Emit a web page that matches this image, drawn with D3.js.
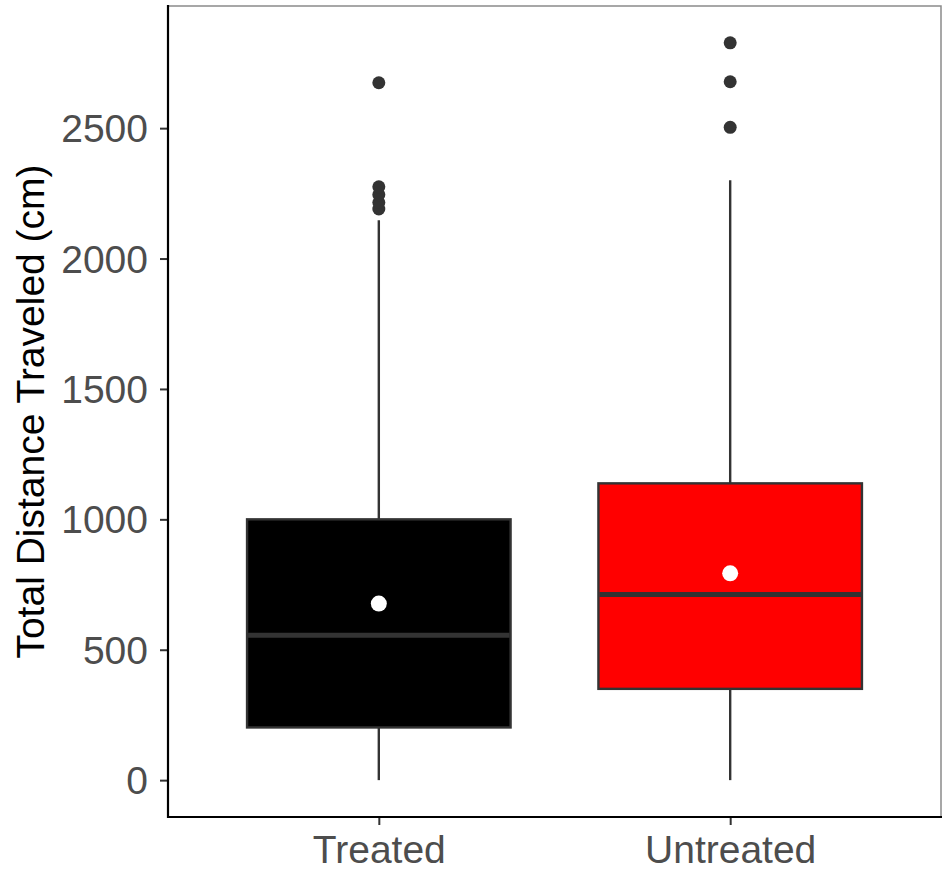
<!DOCTYPE html>
<html>
<head>
<meta charset="utf-8">
<script src="https://cdn.jsdelivr.net/npm/d3@7"></script>
<style>
  body { margin: 0; background: #fff; }
  text { font-family: "Liberation Sans", Arial, Helvetica, sans-serif; }
</style>
</head>
<body>
<div id="chart"></div>
<script>
// data
var categories = ["Treated", "Untreated"];
var fills = ["#000000", "#ff0000"];
var q1 = [202, 350];
var medians = [556, 712];
var q3 = [1000, 1138];
var whiskerLow = [0, 0];
var whiskerHigh = [2147, 2300];
var means = [677, 793];
var outliers = [
  [2190, 2215, 2245, 2275, 2674],
  [2503, 2678, 2827]
];
var yTicks = [0, 500, 1000, 1500, 2000, 2500];

var width = 943, height = 876;
// panel edges
var pLeft = 168, pRight = 941, pTop = 6, pBottom = 817;

var svg = d3.select("#chart").append("svg")
  .attr("width", width)
  .attr("height", height);

// y range with the usual 5% padding
var yMax = d3.max(outliers.map(function(o){ return d3.max(o); }));
var pad = yMax * 0.05;
var y = d3.scaleLinear().domain([0 - pad, yMax + pad]).range([pBottom, pTop]);
var x = d3.scalePoint().domain(categories).range([pLeft, pRight]).padding(0.6);
var boxW = x.step() * 0.75;

// panel border (top/right grey)
svg.append("rect")
  .attr("x", pLeft).attr("y", pTop)
  .attr("width", pRight - pLeft).attr("height", pBottom - pTop)
  .attr("fill", "none")
  .attr("stroke", "#8a8a8a")
  .attr("stroke-width", 1.5);

var g = svg.append("g");

categories.forEach(function(c, i){
  var cx = x(c);
  // whiskers
  g.append("line")
    .attr("x1", cx).attr("x2", cx)
    .attr("y1", y(q3[i])).attr("y2", y(whiskerHigh[i]))
    .attr("stroke", "#333333").attr("stroke-width", 2.4);
  g.append("line")
    .attr("x1", cx).attr("x2", cx)
    .attr("y1", y(q1[i])).attr("y2", y(whiskerLow[i]))
    .attr("stroke", "#333333").attr("stroke-width", 2.4);
  // box
  g.append("rect")
    .attr("x", cx - boxW / 2)
    .attr("y", y(q3[i]))
    .attr("width", boxW)
    .attr("height", y(q1[i]) - y(q3[i]))
    .attr("fill", fills[i])
    .attr("stroke", "#333333")
    .attr("stroke-width", 2.4);
  // median
  g.append("line")
    .attr("x1", cx - boxW / 2 + 1).attr("x2", cx + boxW / 2 - 1)
    .attr("y1", y(medians[i])).attr("y2", y(medians[i]))
    .attr("stroke", "#333333").attr("stroke-width", 5);
  // outliers
  g.selectAll(null).data(outliers[i]).enter().append("circle")
    .attr("cx", cx)
    .attr("cy", function(d){ return y(d); })
    .attr("r", 6.5)
    .attr("fill", "#333333");
  // mean
  g.append("circle")
    .attr("cx", cx).attr("cy", y(means[i]))
    .attr("r", 8)
    .attr("fill", "#ffffff");
});

// axes
var yAxis = svg.append("g")
  .attr("transform", "translate(" + pLeft + ",0)")
  .call(d3.axisLeft(y).tickValues(yTicks).tickFormat(d3.format("d")).tickSize(8).tickPadding(12));
var xAxis = svg.append("g")
  .attr("transform", "translate(0," + pBottom + ")")
  .call(d3.axisBottom(x).tickSize(8).tickPadding(5));

[yAxis, xAxis].forEach(function(a){
  a.select(".domain").remove();
  a.selectAll(".tick line").attr("stroke", "#333333").attr("stroke-width", 2);
  a.selectAll(".tick text")
    .attr("fill", "#4d4d4d")
    .style("font-size", "39px");
});
yAxis.selectAll(".tick text").attr("dy", "0.35em");
xAxis.selectAll(".tick text").attr("dy", "0.85em");

// axis lines
svg.append("line")
  .attr("x1", pLeft).attr("x2", pLeft)
  .attr("y1", pTop - 1).attr("y2", pBottom + 1)
  .attr("stroke", "#000").attr("stroke-width", 2.2);
svg.append("line")
  .attr("x1", pLeft - 1).attr("x2", pRight + 1)
  .attr("y1", pBottom).attr("y2", pBottom)
  .attr("stroke", "#000").attr("stroke-width", 2.2);

// y title
svg.append("text")
  .attr("transform", "translate(44," + ((pTop + pBottom) / 2) + ") rotate(-90)")
  .attr("text-anchor", "middle")
  .attr("fill", "#000")
  .style("font-size", "39px")
  .text("Total Distance Traveled (cm)");
</script>
</body>
</html>
